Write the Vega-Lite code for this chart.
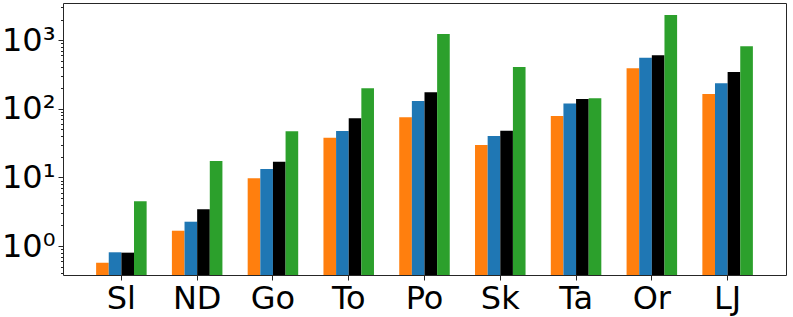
{
  "$schema": "https://vega.github.io/schema/vega-lite/v6.json",
  "width": 723,
  "height": 272,
  "autosize": {"type": "none"},
  "padding": {"left": 63, "top": 3, "right": 7, "bottom": 42},
  "background": "white",
  "config": {
    "view": {"stroke": "#262626", "strokeWidth": 1},
    "axis": {"labelFont": "DejaVu Sans", "labelColor": "black", "tickColor": "#262626", "domain": false, "grid": false, "title": null}
  },
  "data": {"values": [
    {"ds": "Sl", "m": "A", "v": 0.57}, {"ds": "Sl", "m": "B", "v": 0.81}, {"ds": "Sl", "m": "C", "v": 0.80}, {"ds": "Sl", "m": "D", "v": 4.48},
    {"ds": "ND", "m": "A", "v": 1.67}, {"ds": "ND", "m": "B", "v": 2.26}, {"ds": "ND", "m": "C", "v": 3.43}, {"ds": "ND", "m": "D", "v": 17.3},
    {"ds": "Go", "m": "A", "v": 9.7}, {"ds": "Go", "m": "B", "v": 13.2}, {"ds": "Go", "m": "C", "v": 16.9}, {"ds": "Go", "m": "D", "v": 47},
    {"ds": "To", "m": "A", "v": 37.9}, {"ds": "To", "m": "B", "v": 47.5}, {"ds": "To", "m": "C", "v": 72.6}, {"ds": "To", "m": "D", "v": 199},
    {"ds": "Po", "m": "A", "v": 75}, {"ds": "Po", "m": "B", "v": 130}, {"ds": "Po", "m": "C", "v": 174}, {"ds": "Po", "m": "D", "v": 1231},
    {"ds": "Sk", "m": "A", "v": 29.7}, {"ds": "Sk", "m": "B", "v": 40}, {"ds": "Sk", "m": "C", "v": 48}, {"ds": "Sk", "m": "D", "v": 407},
    {"ds": "Ta", "m": "A", "v": 78.5}, {"ds": "Ta", "m": "B", "v": 119}, {"ds": "Ta", "m": "C", "v": 139}, {"ds": "Ta", "m": "D", "v": 142},
    {"ds": "Or", "m": "A", "v": 389}, {"ds": "Or", "m": "B", "v": 556}, {"ds": "Or", "m": "C", "v": 602}, {"ds": "Or", "m": "D", "v": 2330},
    {"ds": "LJ", "m": "A", "v": 164}, {"ds": "LJ", "m": "B", "v": 235}, {"ds": "LJ", "m": "C", "v": 344}, {"ds": "LJ", "m": "D", "v": 815}
  ]},
  "layer": [
    {
      "mark": {"type": "bar"},
      "encoding": {
        "x": {"field": "ds", "type": "nominal", "sort": ["Sl", "ND", "Go", "To", "Po", "Sk", "Ta", "Or", "LJ"],
              "scale": {"paddingInner": 0.3333, "paddingOuter": 0.437},
              "axis": {"labelAngle": 0, "labelFontSize": 32, "tickSize": 5, "labelPadding": 3}},
        "xOffset": {"field": "m", "type": "nominal", "sort": ["A", "B", "C", "D"], "scale": {"paddingInner": 0, "paddingOuter": 0}},
        "y": {"field": "v", "type": "quantitative", "stack": null,
              "scale": {"type": "log", "domain": [0.378, 3480], "nice": false},
              "axis": {"values": [1, 10, 100, 1000], "labelFontSize": 32, "tickSize": 5, "labelPadding": 3,
                       "labelExpr": "datum.value == 1 ? '10⁰' : datum.value == 10 ? '10¹' : datum.value == 100 ? '10²' : '10³'"}},
        "color": {"field": "m", "type": "nominal", "scale": {"domain": ["A", "B", "C", "D"], "range": ["#ff7f0e", "#1f77b4", "#000000", "#2ca02c"]}, "legend": null}
      }
    },
    {
      "mark": {"type": "bar", "opacity": 0},
      "encoding": {
        "x": {"field": "ds", "type": "nominal", "sort": ["Sl", "ND", "Go", "To", "Po", "Sk", "Ta", "Or", "LJ"]},
        "xOffset": {"field": "m", "type": "nominal", "sort": ["A", "B", "C", "D"]},
        "y": {"field": "v", "type": "quantitative", "stack": null,
              "axis": {"orient": "left", "labels": false, "tickSize": 2.5,
                       "values": [0.4, 0.5, 0.6, 0.7, 0.8, 0.9, 2, 3, 4, 5, 6, 7, 8, 9, 20, 30, 40, 50, 60, 70, 80, 90, 200, 300, 400, 500, 600, 700, 800, 900, 2000, 3000]}}
      }
    }
  ],
  "resolve": {"axis": {"y": "independent"}}
}
